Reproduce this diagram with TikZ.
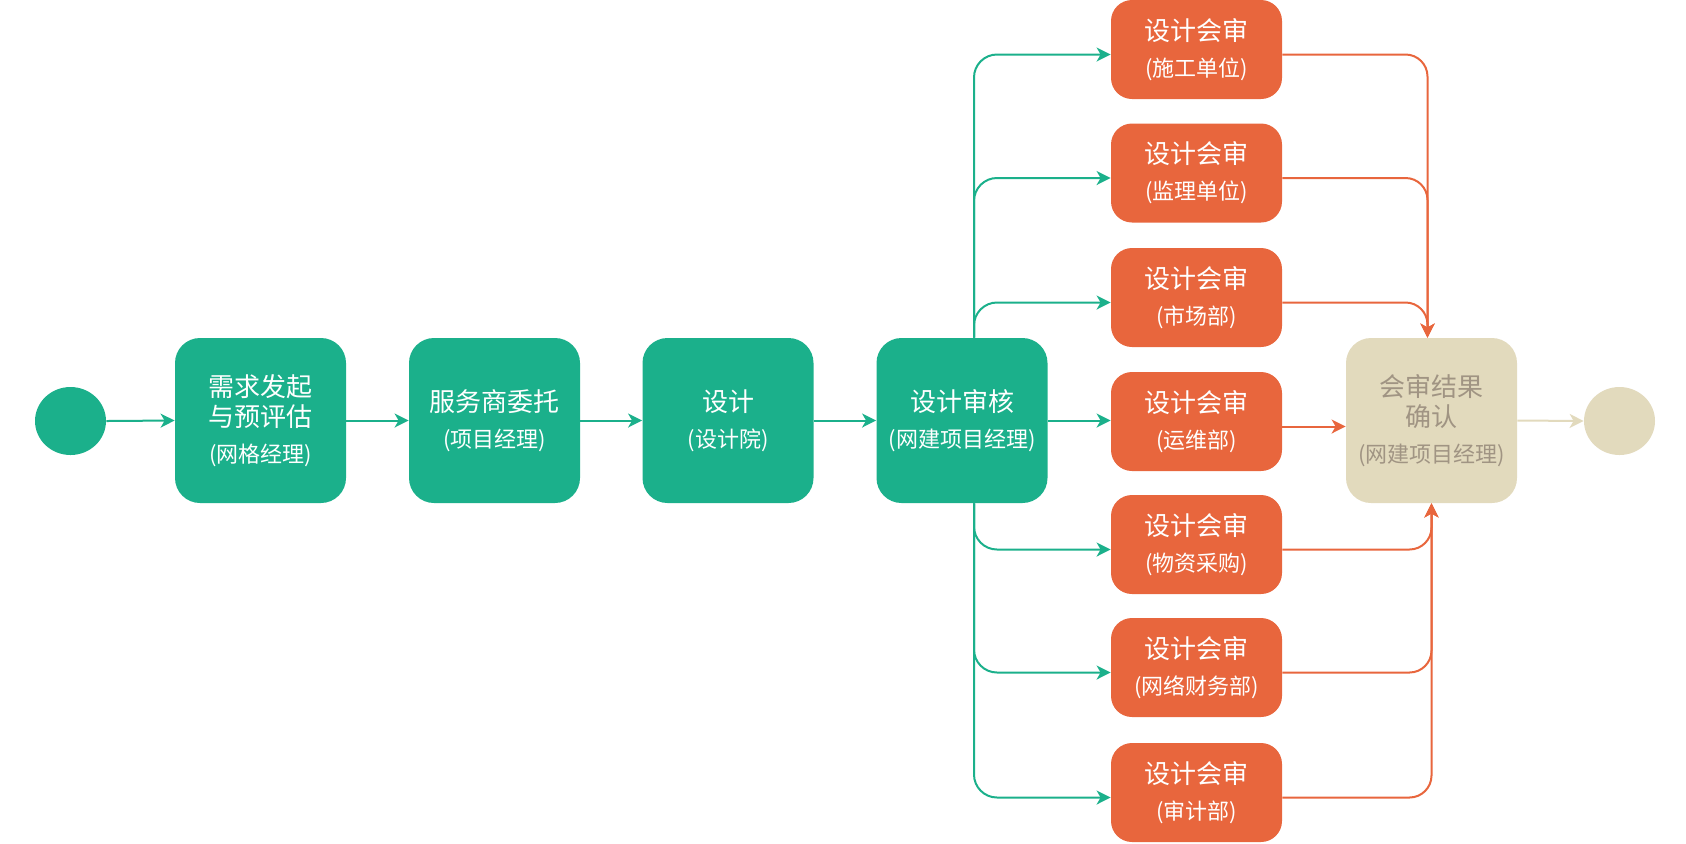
\documentclass[tikz,border=0pt]{standalone}
\usepackage{fontspec}
\setmainfont{Noto Sans CJK SC}
\usetikzlibrary{arrows.meta,shapes.geometric}
\definecolor{flowgreen}{HTML}{1BB08B}
\definecolor{revieworange}{HTML}{E8663D}
\definecolor{resultbeige}{HTML}{E2DABD}
\definecolor{resulttext}{HTML}{A09483}
\newcommand\rolelabel[1]{{\fontsize{11}{13}\selectfont #1}}

\begin{document}
\begin{tikzpicture}[x=0.5pt,y=-0.5pt,
  box/.style={rounded corners=12.5pt, minimum width=85.5pt, minimum height=82.5pt,
    inner sep=0pt, align=center, font=\fontsize{13}{15}\selectfont, text=white},
  stepbox/.style={box, fill=flowgreen},
  reviewbox/.style={box, fill=revieworange, minimum height=49.5pt, rounded corners=10.5pt},
  resultbox/.style={box, fill=resultbeige, text=resulttext},
  terminal/.style={ellipse, minimum width=35.5pt, minimum height=34pt, inner sep=0pt},
  flow/.style={line width=1pt, -{Stealth[length=7pt,width=7pt,inset=2pt]}},
  gflow/.style={flow, draw=flowgreen},
  oflow/.style={flow, draw=revieworange},
  bflow/.style={flow, draw=resultbeige}]
\useasboundingbox (0,0) rectangle (1686,843);

% main chain
\node[terminal, fill=flowgreen] (start) at (70.5,421) {};
\node[stepbox] (b1) at (260.5,420.5) {需求发起\\与预评估\\[3pt]\rolelabel{(网格经理)}};
\node[stepbox] (b2) at (494.5,420.5) {服务商委托\\[3pt]\rolelabel{(项目经理)}};
\node[stepbox] (b3) at (728,420.5) {设计\\[3pt]\rolelabel{(设计院)}};
\node[stepbox] (b4) at (962,420.5) {设计审核\\[3pt]\rolelabel{(网建项目经理)}};

% joint review column
\node[reviewbox] (o1) at (1196.5,49.5)  {设计会审\\[3pt]\rolelabel{(施工单位)}};
\node[reviewbox] (o2) at (1196.5,173)   {设计会审\\[3pt]\rolelabel{(监理单位)}};
\node[reviewbox] (o3) at (1196.5,297.5) {设计会审\\[3pt]\rolelabel{(市场部)}};
\node[reviewbox] (o4) at (1196.5,421.5) {设计会审\\[3pt]\rolelabel{(运维部)}};
\node[reviewbox] (o5) at (1196.5,544.5) {设计会审\\[3pt]\rolelabel{(物资采购)}};
\node[reviewbox] (o6) at (1196.5,667.5) {设计会审\\[3pt]\rolelabel{(网络财务部)}};
\node[reviewbox] (o7) at (1196.5,792.5) {设计会审\\[3pt]\rolelabel{(审计部)}};

% result and end
\node[resultbox] (res) at (1431.5,420.5) {会审结果\\确认\\[3pt]\rolelabel{(网建项目经理)}};
\node[terminal, fill=resultbeige] (finish) at (1619.5,421) {};

% chain connectors
\draw[gflow] (start.east) -- (b1.west);
\draw[gflow] (b1.east) -- (b2.west);
\draw[gflow] (b2.east) -- (b3.west);
\draw[gflow] (b3.east) -- (b4.west);
\draw[gflow] (b4.east) -- (b4.east -| o4.west);

% branches to the review boxes
\foreach \k in {1,2,3}
  \draw[gflow, rounded corners=11.5pt] ([xshift=6pt]b4.north) |- ([yshift=-2.5pt]o\k.west);
\foreach \k in {5,6,7}
  \draw[gflow, rounded corners=11.5pt] ([xshift=6pt]b4.south) |- ([yshift=-2.5pt]o\k.west);

% review results gathered
\foreach \k in {1,2,3}
  \draw[oflow, rounded corners=11pt] ([yshift=-2.5pt]o\k.east) -| ([xshift=-2pt]res.north);
\coordinate (o4out) at ([yshift=-2.5pt]o4.east);
\draw[oflow] (o4out) -- (res.west |- o4out);
\foreach \k in {5,6,7}
  \draw[oflow, rounded corners=11pt] ([yshift=-2.5pt]o\k.east) -| (res.south);

\draw[bflow] (res.east) -- (finish.west);
\end{tikzpicture}
\end{document}
